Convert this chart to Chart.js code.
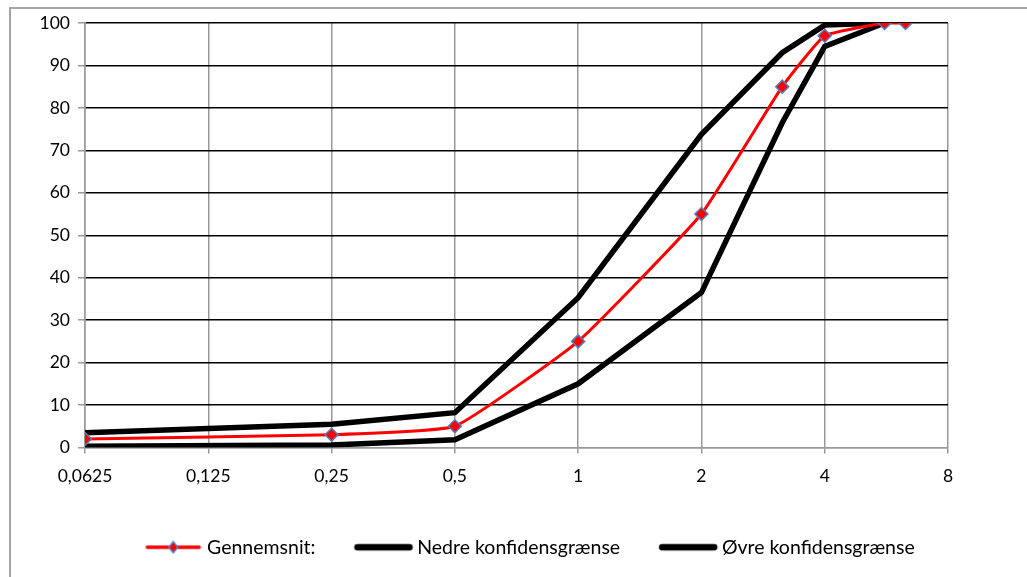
<!DOCTYPE html>
<html>
<head>
<meta charset="utf-8">
<script src="https://cdn.jsdelivr.net/npm/chart.js@4/dist/chart.umd.min.js"></script>
<style>
  html,body{margin:0;padding:0;background:#fff;}
  #wrap{position:absolute;left:0;top:0;width:1027px;height:577px;}
  #frame{position:absolute;left:9px;top:7px;width:1100px;height:700px;border-left:2px solid #a6a6a6;border-top:2px solid #a6a6a6;}
</style>
</head>
<body>
<div id="frame"></div>
<div id="wrap"><canvas id="c"></canvas></div>
<script>
// sieve sizes (mm) and passing percentages
const sizes = [0.0625, 0.25, 0.5, 1, 2, 3.15, 4, 5.6, 6.3];
const mean = [2, 3, 5, 25, 55, 85, 97, 100, 100];
const lowerSizes = [0.0625, 0.25, 0.5, 1, 2, 3.15, 4, 5.6];
const lower = [0.3, 0.6, 1.8, 15, 36.5, 76.5, 94.5, 100];
const upper = [3.5, 5.5, 8.2, 35.3, 73.8, 93, 99.5, 100];
const xTicks = [0.0625, 0.125, 0.25, 0.5, 1, 2, 4, 8];
const yTicks = [0,10,20,30,40,50,60,70,80,90,100];

const pts = (xs, ys)=>ys.map((y,i)=>({x:xs[i], y}));

// legend sample: blank on the left gives the gap between items
function legendIcon(color, width, marker){
  const cv = document.createElement('canvas'); cv.width = 84; cv.height = 14;
  const g = cv.getContext('2d');
  g.strokeStyle = color; g.lineWidth = width; g.lineCap = 'round';
  g.beginPath(); g.moveTo(26,7); g.lineTo(78,7); g.stroke();
  if(marker){
    g.fillStyle = '#ff0000'; g.strokeStyle = '#4f81bd'; g.lineWidth = 1.5;
    g.beginPath(); g.moveTo(52,1.5); g.lineTo(56.5,7); g.lineTo(52,12.5); g.lineTo(47.5,7); g.closePath();
    g.fill(); g.stroke();
  }
  return cv;
}

const tickFont = {family:'Lato, "Open Sans", sans-serif', size:17.5};
const legendFont = {family:'Lato, "Open Sans", sans-serif', size:19.5};
const gray = '#999999';

// nudge the legend to the right, where the reference has it
const legendShift = {id:'legendShift', afterUpdate(chart){ const l = chart.legend; if(l){ l.left += 48; l.right += 48; } }};

new Chart(document.getElementById('c'), {
  type:'line',
  data:{datasets:[
    {label:'Gennemsnit:', data:pts(sizes, mean), borderColor:'#ff0000', borderWidth:3, tension:0.12,
     pointStyle:'rectRot', pointRadius:6.5, pointBackgroundColor:'#ff0000', pointBorderColor:'#4f81bd', pointBorderWidth:1.5,
     legendIcon:legendIcon('#ff0000',3.5,true), order:0},
    {label:'Nedre konfidensgrænse', data:pts(lowerSizes, lower), borderColor:'#000', borderWidth:5.5, pointRadius:0, tension:0,
     borderJoinStyle:'miter', legendIcon:legendIcon('#000',6.5,false), order:1},
    {label:'Øvre konfidensgrænse', data:pts(lowerSizes, upper), borderColor:'#000', borderWidth:5.5, pointRadius:0, tension:0,
     borderJoinStyle:'miter', legendIcon:legendIcon('#000',6.5,false), order:2}
  ]},
  options:{
    responsive:true, maintainAspectRatio:false, animation:false,
    layout:{padding:{left:0, right:79, top:23, bottom:10}},
    plugins:{
      tooltip:{enabled:false},
      legend:{position:'bottom',
        labels:{color:'#000', font:legendFont, usePointStyle:true, pointStyleWidth:68, padding:24,
          generateLabels:(chart)=>chart.data.datasets.map((d,i)=>({text:d.label, pointStyle:d.legendIcon, datasetIndex:i, fontColor:'#000', lineWidth:0, strokeStyle:'transparent', fillStyle:'transparent'}))
        }}
    },
    scales:{
      x:{type:'logarithmic', min:0.0625, max:8,
        afterBuildTicks:(s)=>{ s.ticks = xTicks.map(v=>({value:v})); },
        afterFit:(s)=>{ s.height = 66; },
        ticks:{color:'#000', font:tickFont, autoSkip:false, maxRotation:0, padding:12,
          callback:(v)=>String(v).replace('.',',')},
        grid:{color:gray, lineWidth:1.5, tickLength:6, tickColor:gray},
        border:{color:gray, width:1.5}
      },
      y:{min:0, max:100,
        afterBuildTicks:(s)=>{ s.ticks = yTicks.map(v=>({value:v})); },
        afterFit:(s)=>{ s.width = 85; },
        ticks:{color:'#000', font:tickFont, padding:8},
        grid:{color:(c)=>c.tick && c.tick.value===0 ? gray : '#000', lineWidth:1.5, tickLength:7, tickColor:gray},
        border:{color:gray, width:1.5}
      }
    }
  },
  plugins:[legendShift]
});
</script>
</body>
</html>
